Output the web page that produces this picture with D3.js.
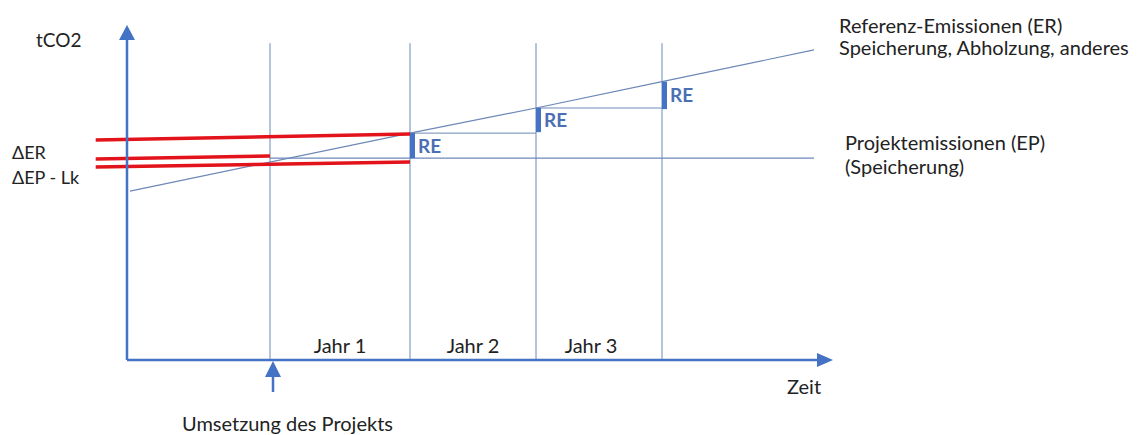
<!DOCTYPE html>
<html>
<head>
<meta charset="utf-8">
<script src="https://cdn.jsdelivr.net/npm/d3@7"></script>
<style>
  body { margin: 0; background: #fff; }
  svg { display: block; font-family: Lato, 'Open Sans', sans-serif; }
</style>
</head>
<body>
<div id="container"></div>
<script>
// time in years from project start (axis origin = -1), emissions in tCO2 (schematic)
var yearLines = [0, 1, 2, 3];
var yearLabels = ['Jahr 1', 'Jahr 2', 'Jahr 3'];

var erTime = [-1, 1, 2, 3, 4.2];
var erValues = [52.8, 70.9, 78.75, 87.0, 96.9];

var epTime = [0, 4.2];
var epValues = [63.1, 63.1];

// reductions RE per year: [time, from, to]
var reTime = [1, 2, 3];
var reFrom = [63.1, 71.2, 78.4];
var reTo = [70.9, 78.75, 87.0];

// red marker lines (ΔER, ΔEP - Lk)
var redStart = [-1.245, -1.245, -1.245];
var redEnd = [1, 0, 1];
var redFrom = [68.75, 62.8, 60.3];
var redTo = [70.6, 63.75, 61.9];

var W = 1139, H = 435;
var blue = '#4472c4', thin = '#6c88b8', red = '#e3131b';

var svg = d3.select('#container').append('svg')
	.attr('width', W)
	.attr('height', H);

var x = d3.scaleLinear()
	.domain([-1, 0, 1, 2, 3, 4.2])
	.range([130, 270, 410, 536, 662, 814]);

var y = d3.scaleLinear()
	.domain([0, 100])
	.range([360, 40]);

// year grid lines
svg.selectAll('.year').data(yearLines).enter().append('line')
	.attr('x1', function(d) { return x(d); })
	.attr('x2', function(d) { return x(d); })
	.attr('y1', y(99))
	.attr('y2', y(0))
	.attr('stroke', thin)
	.attr('stroke-width', 1);

// reference emissions
var line = d3.line()
	.x(function(d) { return x(d[0]); })
	.y(function(d) { return y(d[1]); });

svg.append('path')
	.attr('d', line(d3.zip(erTime, erValues)))
	.attr('fill', 'none')
	.attr('stroke', thin)
	.attr('stroke-width', 1.2);

// project emissions
svg.append('path')
	.attr('d', line(d3.zip(epTime, epValues)))
	.attr('fill', 'none')
	.attr('stroke', thin)
	.attr('stroke-width', 1.2);

// step lines from each year to the next
svg.selectAll('.step').data([0, 1]).enter().append('line')
	.attr('x1', function(i) { return x(reTime[i]); })
	.attr('x2', function(i) { return x(reTime[i + 1]); })
	.attr('y1', function(i) { return y(reTo[i]); })
	.attr('y2', function(i) { return y(reTo[i]); })
	.attr('stroke', thin)
	.attr('stroke-width', 1);

// red lines
svg.selectAll('.red').data(d3.range(redStart.length)).enter().append('line')
	.attr('x1', function(i) { return x(redStart[i]); })
	.attr('x2', function(i) { return x(redEnd[i]); })
	.attr('y1', function(i) { return y(redFrom[i]); })
	.attr('y2', function(i) { return y(redTo[i]); })
	.attr('stroke', red)
	.attr('stroke-width', 3.5);

// RE bars
svg.selectAll('.re').data(d3.range(reTime.length)).enter().append('rect')
	.attr('x', function(i) { return x(reTime[i]); })
	.attr('y', function(i) { return y(reTo[i]); })
	.attr('width', 5)
	.attr('height', function(i) { return y(reFrom[i]) - y(reTo[i]); })
	.attr('fill', blue);

svg.selectAll('.relabel').data(d3.range(reTime.length)).enter().append('text')
	.attr('x', function(i) { return x(reTime[i]) + 8; })
	.attr('y', function(i) { return (y(reFrom[i]) + y(reTo[i])) / 2 + 7; })
	.attr('fill', '#4a6fb3')
	.style('font-size', '19px')
	.style('font-weight', 'bold')
	.text('RE');

// axes
var x0 = x(-1) - 3, yBase = y(0);
svg.append('line')
	.attr('x1', x0).attr('x2', 820)
	.attr('y1', yBase).attr('y2', yBase)
	.attr('stroke', blue).attr('stroke-width', 2.5);
svg.append('path')
	.attr('d', 'M817,' + (yBase - 7) + 'L833,' + yBase + 'L817,' + (yBase + 7) + 'Z')
	.attr('fill', blue);

svg.append('line')
	.attr('x1', x0).attr('x2', x0)
	.attr('y1', yBase).attr('y2', 38)
	.attr('stroke', blue).attr('stroke-width', 2.5);
svg.append('path')
	.attr('d', 'M' + (x0 - 8) + ',40L' + x0 + ',25L' + (x0 + 8) + ',40Z')
	.attr('fill', blue);

// project start arrow
var xs = x(0) + 3;
svg.append('line')
	.attr('x1', xs).attr('x2', xs)
	.attr('y1', 392).attr('y2', 374)
	.attr('stroke', blue).attr('stroke-width', 2.5);
svg.append('path')
	.attr('d', 'M' + (xs - 8) + ',377L' + xs + ',361L' + (xs + 8) + ',377Z')
	.attr('fill', blue);

// year labels
svg.selectAll('.ylab').data(yearLabels).enter().append('text')
	.attr('x', function(d, i) { return (x(yearLines[i]) + x(yearLines[i + 1])) / 2 - (i == 2 ? 8 : 0); })
	.attr('y', 353)
	.attr('text-anchor', 'middle')
	.attr('fill', '#222')
	.style('font-size', '20px')
	.text(function(d) { return d; });

function label(tx, ty, s, size) {
	svg.append('text')
		.attr('x', tx).attr('y', ty)
		.attr('fill', '#222')
		.style('font-size', (size || 20) + 'px')
		.text(s);
}

label(36, 47, 'tCO2', 19);
label(12, 159, '\u0394ER', 18);
label(12, 184, '\u0394EP - Lk', 18);
label(839, 33, 'Referenz-Emissionen (ER)');
label(839, 55, 'Speicherung, Abholzung, anderes');
label(845, 150, 'Projektemissionen (EP)');
label(845, 174, '(Speicherung)');
label(787, 394, 'Zeit');
label(182, 431, 'Umsetzung des Projekts');
</script>
</body>
</html>
